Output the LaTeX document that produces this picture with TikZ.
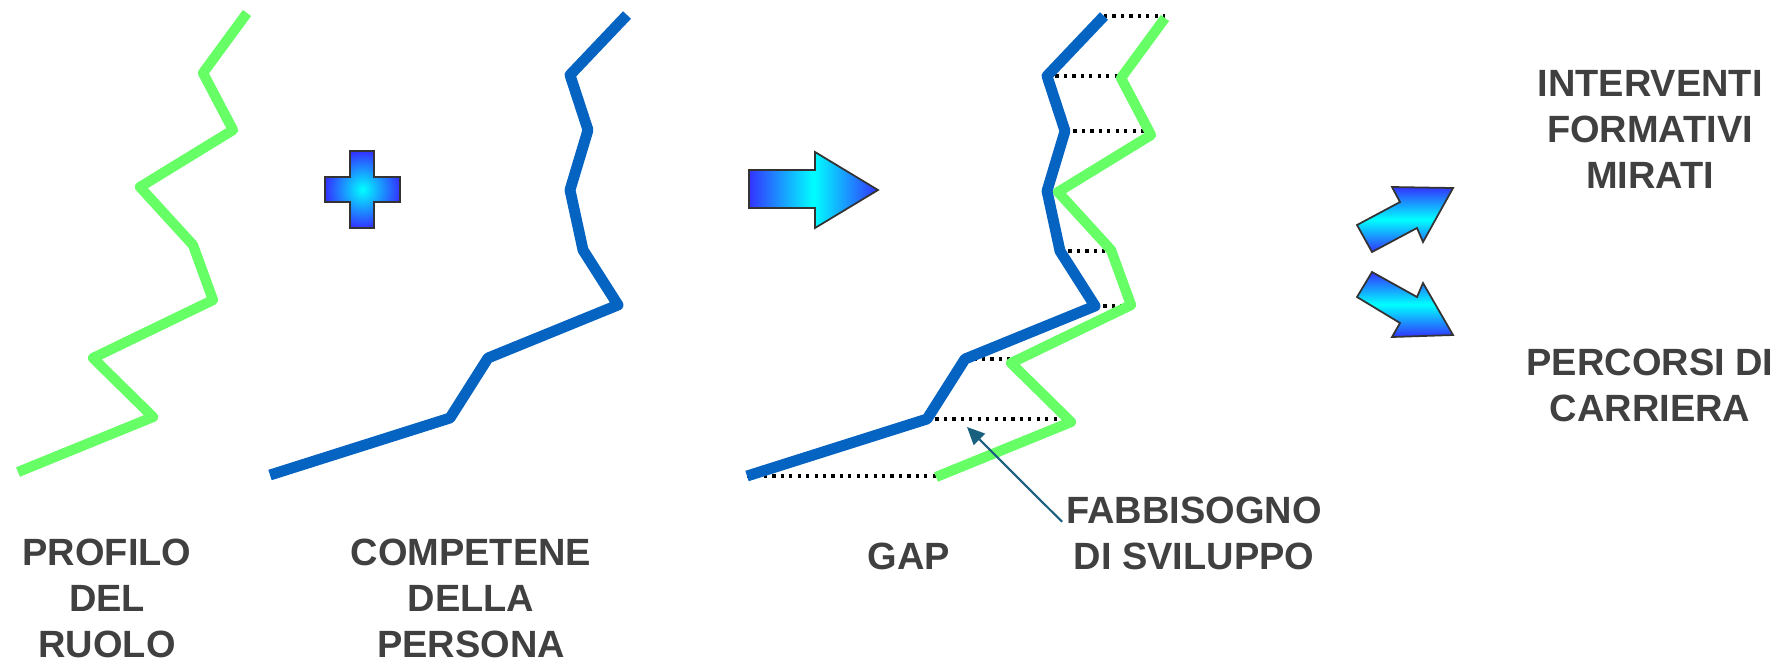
\documentclass[tikz,border=0pt]{standalone}
\usepackage{fontspec}
\setmainfont{Liberation Sans}
\usetikzlibrary{arrows.meta}
\definecolor{verde}{HTML}{66FF66}
\definecolor{blu}{HTML}{0563C1}
\definecolor{bluscuro}{HTML}{3333FF}
\definecolor{testo}{HTML}{404040}
\definecolor{freccia}{HTML}{19607F}

\newcommand{\puntiruolo}{247/13,203/73,233/130,140/187,193/245,213/300,93/358,153/417,18/472}
\newcommand{\puntipersona}{627/15,570/75,588/130,570/190,583/250,618/305,488/358,450/418,270/475}

\begin{document}
\begin{tikzpicture}[x=0.01cm,y=-0.01cm,
  ruolo/.style={draw=verde,line width=2.9pt,line join=round},
  persona/.style={draw=blu,line width=3.1pt,line join=round},
  divario/.style={line width=0.9pt,dash pattern=on 0.9pt off 1.5pt},
  titolo/.style={text=testo,font=\bfseries\fontsize{10.8}{13.1}\selectfont,align=center,inner sep=0pt},
  forma/.style={draw=black!80,line width=0.5pt},
  sfumata/.style={forma,top color=bluscuro,bottom color=bluscuro,middle color=cyan}]
\useasboundingbox (0,0) rectangle (1789,663);

% punti delle due spezzate
\foreach \x/\y [count=\i] in \puntiruolo \coordinate (r\i) at (\x,\y);
\foreach \x/\y [count=\i] in \puntipersona \coordinate (c\i) at (\x,\y);
\begin{scope}[shift={(918,5)}]
\foreach \x/\y [count=\i] in \puntiruolo \coordinate (gr\i) at (\x,\y);
\end{scope}
\begin{scope}[shift={(477,1)}]
\foreach \x/\y [count=\i] in \puntipersona \coordinate (gc\i) at (\x,\y);
\end{scope}

\draw[ruolo] (r1) \foreach \i in {2,...,9} {-- (r\i)};
\draw[persona] (c1) \foreach \i in {2,...,9} {-- (c\i)};

% piu
\draw[forma,inner color=cyan,outer color=bluscuro] (350,151) -- (374,151) -- (374,177) -- (400,177) -- (400,202) -- (374,202) -- (374,228) -- (350,228) -- (350,202) -- (325,202) -- (325,177) -- (350,177) -- cycle;

% freccia grande
\draw[forma,left color=bluscuro,right color=bluscuro,middle color=cyan] (749,170) -- (815,170) -- (815,152) -- (878,190) -- (815,228) -- (815,208) -- (749,208) -- cycle;

% gap
\foreach \i in {1,2,3,5,6,7,8,9}
  \draw[divario] (gc\i) -- (gc\i -| gr\i);
\draw[ruolo] (gr1) \foreach \i in {2,...,9} {-- (gr\i)};
\draw[persona] (gc1) \foreach \i in {2,...,9} {-- (gc\i)};

% frecce piccole
\draw[sfumata] (1357,225) -- (1400,202) -- (1392,187) -- (1453,188) -- (1423,242) -- (1417,228) -- (1372,252) -- cycle;
\draw[sfumata] (1372,272) -- (1417,297) -- (1423,283) -- (1453,335) -- (1392,337) -- (1400,323) -- (1357,297) -- cycle;

% testi
\node[titolo] (profilo) at (107,598) {PROFILO\\DEL\\RUOLO};
\node[titolo] (competenze) at (471,598) {COMPETENE\\DELLA\\PERSONA};
\node[titolo] (gap) at (909,556) {GAP};
\node[titolo] (fabbisogno) at (1194,533) {FABBISOGNO\\DI SVILUPPO};
\node[titolo] (interventi) at (1650,129) {INTERVENTI\\FORMATIVI\\MIRATI};
\node[titolo] (percorsi) at (1650,385) {PERCORSI DI\\CARRIERA};

\coordinate (bisogno) at (967,427);
\draw[freccia,line width=0.6pt,-{Triangle[length=5pt,width=4.5pt]}] ([xshift=-1pt,yshift=-0.26cm]fabbisogno.north west) -- (bisogno);
\end{tikzpicture}
\end{document}
